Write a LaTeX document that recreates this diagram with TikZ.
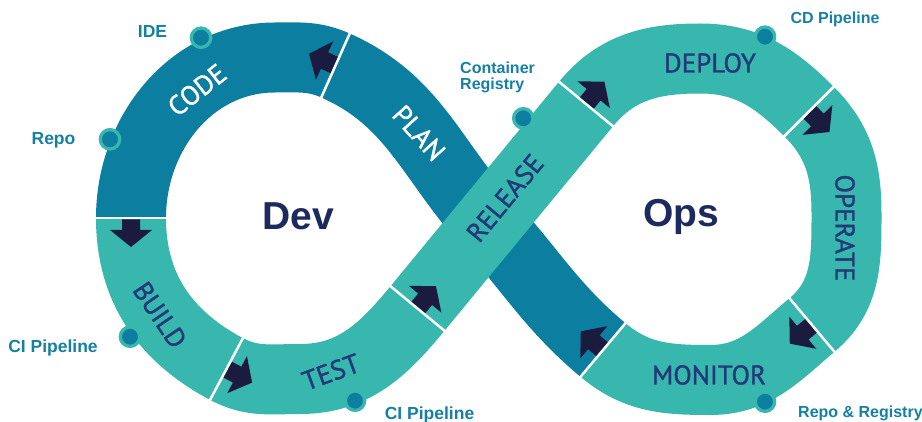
\documentclass[tikz,border=0pt]{standalone}
\usepackage{fontspec}
\setmainfont{Liberation Sans}
\newfontfamily\bandfont[FakeBold=1.3]{PT Sans}
\usepackage{tikz}
\usetikzlibrary{positioning}

\definecolor{planblue}{HTML}{0C7FA1}
\definecolor{opsteal}{HTML}{38B7AE}
\definecolor{arrownavy}{HTML}{1A1B3F}
\definecolor{textnavy}{HTML}{233A78}
\definecolor{labelblue}{HTML}{1580A3}
\definecolor{bignavy}{HTML}{1C2A5E}

\tikzset{
  band/.style={line width=70pt},
  devband/.style={band,draw=planblue},
  opsband/.style={band,draw=opsteal},
  divider/.style={draw=white,line width=2.5pt},
  flowhead/.style={fill=arrownavy},
  toolpin/.style={circle,fill=planblue,draw=opsteal,line width=3.3pt,minimum size=19.4pt,inner sep=0pt},
  tool/.style={text=labelblue,inner sep=0pt,font=\bfseries\fontsize{16}{16.7}\selectfont},
  toolbig/.style={text=labelblue,inner sep=0pt,font=\bfseries\fontsize{17.5}{18}\selectfont},
  stage/.style={text=textnavy,inner sep=0pt,font=\bandfont\fontsize{27}{27}\selectfont},
  side/.style={text=bignavy,inner sep=0pt,font=\bfseries\fontsize{39}{39}\selectfont}
}

\newcommand{\stagecut}[2]{\draw[divider] (#1) ++(#2+90:37) -- ++(#2-90:74);}
\newcommand{\stagearrow}[2]{\fill[flowhead,shift={(#1)},rotate=#2]
  (1.5,-9) -- (12,-9) -- (12,-21) -- (29,0) -- (12,21) -- (12,9) -- (1.5,9) -- cycle;}

\begin{document}
\begin{tikzpicture}[x=1pt,y=1pt]
\useasboundingbox (0,0) rectangle (922,421);
% centre line of the loop
\coordinate (m1) at (603,71);
\coordinate (xg) at (488,198);
\coordinate (p1) at (335.5,355.5);
\coordinate (tl) at (275,363.5);
\coordinate (c1) at (131,203);
\coordinate (b1) at (226.5,52);
\coordinate (bl) at (300,42);
\coordinate (t1) at (417.5,112.5);
\coordinate (r1) at (586,317);
\coordinate (tr) at (700,362.5);
\coordinate (d1) at (809,309.5);
\coordinate (rr) at (846.5,208);
\coordinate (o1) at (812,96);
\coordinate (br) at (710,41);
%
\draw[devband] (m1) to[out=140,in=-48] (xg) to[out=132,in=-24] (p1);
\draw[devband] (p1) to[out=156,in=0] (tl) to[out=180,in=90] (c1);
\draw[opsband] (c1) to[out=-90,in=152] (b1);
\draw[opsband] (b1) to[out=-28,in=180] (bl) to[out=0,in=230.5] (t1);
\draw[opsband] (t1) -- (r1);
\draw[opsband] (r1) to[out=50.5,in=180] (tr) to[out=0,in=135] (d1);
\draw[opsband] (d1) to[out=-45,in=90] (rr) to[out=-90,in=40] (o1);
\draw[opsband] (o1) to[out=220,in=0] (br) to[out=180,in=-40] (m1);
%
\stagecut{p1}{156} \stagearrow{p1}{156}
\stagecut{c1}{270} \stagearrow{c1}{270}
\stagecut{b1}{-28} \stagearrow{b1}{-28}
\stagecut{t1}{50.5} \stagearrow{t1}{50.5}
\stagecut{r1}{50.5} \stagearrow{r1}{50.5}
\stagecut{d1}{-45} \stagearrow{d1}{-45}
\stagecut{o1}{220} \stagearrow{o1}{220}
\stagecut{m1}{140} \stagearrow{m1}{140}
%
\node[stage,text=white,rotate=38] (code) at (197,331) {CODE};
\node[stage,text=white,rotate=-48] (plan) at (419,288) {PLAN};
\node[stage,rotate=-56] (build) at (160,106) {BUILD};
\node[stage,rotate=20] (test) at (331,49) {TEST};
\node[stage,rotate=50.5] (release) at (505,223) {RELEASE};
\node[stage] (deploy) at (710,358) {DEPLOY};
\node[stage,rotate=-90] (operate) at (845,193) {OPERATE};
\node[stage] (monitor) at (709,46) {MONITOR};
%
\node[side,anchor=base] (dev) at (298,191) {Dev};
\node[side,anchor=base] (ops) at (681.5,194) {Ops};
%
\node[toolpin] (idepin) at (201,383.3) {};
\node[toolpin] (repopin) at (110,281.7) {};
\node[toolpin] (buildpin) at (130,84.3) {};
\node[toolpin] (testpin) at (355,20.3) {};
\node[toolpin] (regpin) at (523.3,302.7) {};
\node[toolpin] (cdpin) at (765,384.3) {};
\node[toolpin] (monpin) at (765,19.3) {};
%
\node[toolbig,anchor=base] (ide) at (152.5,383.3) {IDE};
\node[toolbig,anchor=base] (repo) at (53.5,276) {Repo};
\node[toolbig,anchor=base] (ci1) at (53,68.3) {CI Pipeline};
\node[toolbig,anchor=base] (ci2) at (429.5,1.5) {CI Pipeline};
\node[tool,anchor=north west,align=left] (registry) at (460,359.5) {Container\\Registry};
\node[tool,anchor=base] (cd) at (835,397) {CD Pipeline};
\node[tool,anchor=base west] (repreg) at (798,3.3) {Repo \& Registry};
\end{tikzpicture}
\end{document}
